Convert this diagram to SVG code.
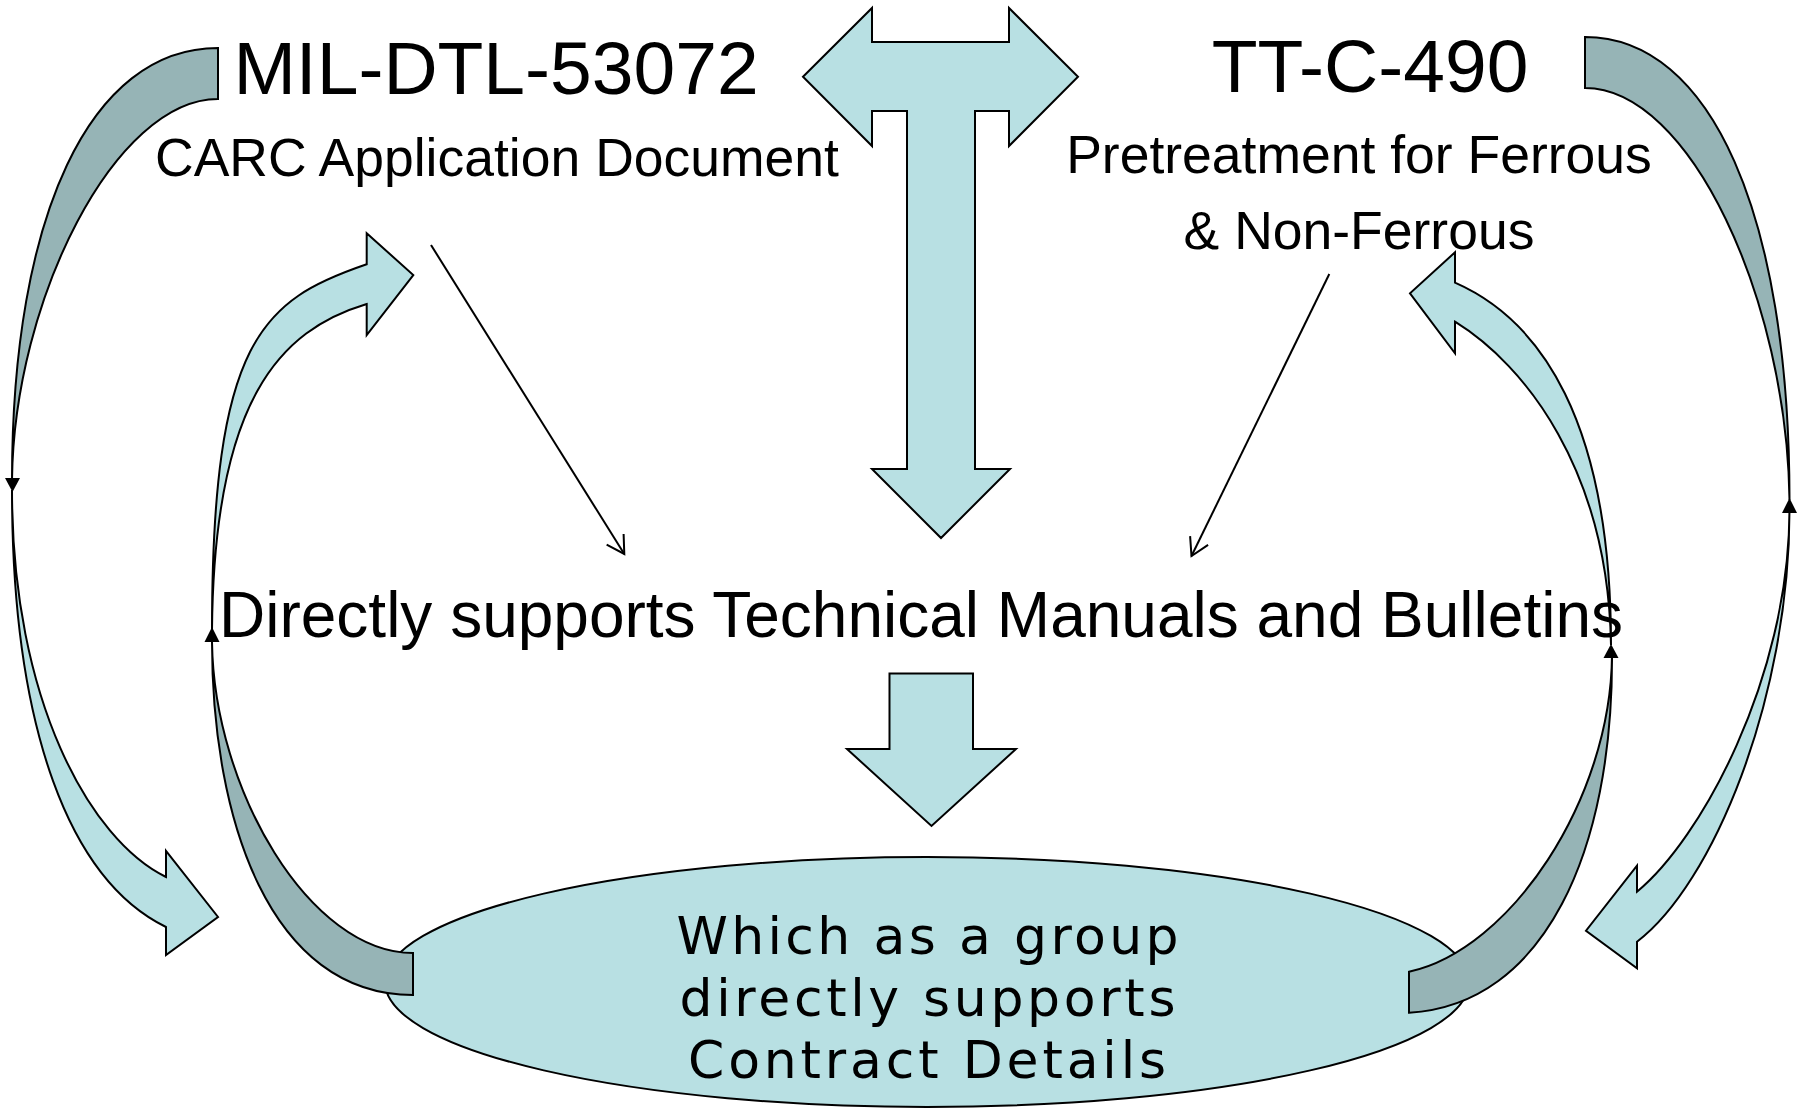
<svg xmlns="http://www.w3.org/2000/svg" width="1801" height="1109" viewBox="0 0 1801 1109">
  <style>
    .txt { font-family: "Liberation Sans", Arial, sans-serif; fill: #000; text-anchor: middle; }
    .oval-txt { font-family: "DejaVu Sans", Verdana, sans-serif; font-size: 52px; fill: #000; text-anchor: middle; }
    .front { fill: #B8E0E3; stroke: #000; stroke-width: 2; stroke-linejoin: miter; }
    .back { fill: #96B4B6; stroke: #000; stroke-width: 2; stroke-linejoin: miter; }
    .pin { fill: #000; }
    .thin { fill: none; stroke: #000; stroke-width: 2; marker-end: url(#open); }
  </style>
  <defs>
    <marker id="open" markerUnits="userSpaceOnUse" markerWidth="24" markerHeight="24" viewBox="-20 -12 22 24" refX="0" refY="0" orient="auto">
      <path d="M-17.3,-10 L0,0 L-17.3,10" fill="none" stroke="#000" stroke-width="2"/>
    </marker>
  </defs>

  <rect width="1801" height="1109" fill="#fff"/>

  <!-- spec titles -->
  <g id="mil-dtl-53072">
    <text class="txt" x="496" y="94" font-size="75">MIL-DTL-53072</text>
    <text class="txt" x="497" y="175.5" font-size="53.5">CARC Application Document</text>
  </g>
  <g id="tt-c-490">
    <text class="txt" x="1370" y="92" font-size="75">TT-C-490</text>
    <text class="txt" x="1359" y="173" font-size="53.5">Pretreatment for Ferrous</text>
    <text class="txt" x="1359" y="248.5" font-size="53.5">&amp; Non-Ferrous</text>
  </g>
  <g id="manuals">
    <text class="txt" x="921" y="637" font-size="64">Directly supports Technical Manuals and Bulletins</text>
  </g>
  <g id="contract">
    <ellipse cx="927" cy="982" rx="542" ry="125" fill="#B8E0E3" stroke="#000" stroke-width="2"/>
    <text class="oval-txt" x="927.5" y="954" textLength="502" lengthAdjust="spacing">Which as a group</text>
    <text class="oval-txt" x="927.5" y="1016" textLength="496" lengthAdjust="spacing">directly supports</text>
    <text class="oval-txt" x="927" y="1078" textLength="478" lengthAdjust="spacing">Contract Details</text>
  </g>

  <g id="connectors">
    <!-- T-shaped three-way block arrow -->
    <polygon class="front" points="803,76.75 872,8 872,42 1009,42 1009,8 1078,76.75 1009,146 1009,111 975,111 975,469 1010,469 941,538 872,469 907,469 907,111 872,111 872,146"/>
    <!-- block arrow down to the oval -->
    <polygon class="front" points="889.5,673.5 973,673.5 973,749 1016,749 931.5,826 847,749 889.5,749"/>

    <!-- left outer curved arrow -->
    <path class="back" d="M218,48 C90,48 12,216 12,480 C14,300 115,99 218,99 Z"/>
    <path class="front" d="M12,490 C12,730 70,880 166,927 L166,955 L218,917 L166,851 L166,877 C90,840 12,700 12,490 Z"/>
    <path class="pin" d="M5,478 L20,478 L12.5,492 Z"/>

    <!-- left inner curved arrow -->
    <path class="back" d="M413,995 C270,995 212,820 212,642 C214,790 310,953 413,953 Z"/>
    <path class="front" d="M212,630 C212,340 262,300 366.7,264.3 L366.7,233.3 L413.3,275 L366.7,335 L366.7,304 C280,330 214,400 212,630 Z"/>
    <path class="pin" d="M212,627 L219.5,642 L204.5,642 Z"/>

    <!-- right outer curved arrow -->
    <path class="back" d="M1585,37 C1711,37 1789.5,215 1789.5,500 C1787,300 1690,88 1585,88 Z"/>
    <path class="front" d="M1789.5,510 C1789.5,700 1712,885 1637,941.7 L1637,968.3 L1586,930.7 L1637,865.7 L1637,891.7 C1700,840 1789,680 1789.5,510 Z"/>
    <path class="pin" d="M1789.5,498 L1797,513 L1782,513 Z"/>

    <!-- right inner curved arrow -->
    <path class="back" d="M1409,1012.7 C1545,1005 1613,850 1612,655 C1611,800 1510,950 1409,971.7 Z"/>
    <path class="front" d="M1611,645 C1611,420 1540,320 1455,282.7 L1455,252.3 L1410,293.3 L1455,353.3 L1455,321.7 C1525,365 1608,470 1611,645 Z"/>
    <path class="pin" d="M1611,644 L1618.5,658 L1603.5,658 Z"/>

    <!-- thin pointer lines -->
    <line class="thin" x1="431" y1="245" x2="624.3" y2="554"/>
    <line class="thin" x1="1329.3" y1="274" x2="1191.5" y2="556"/>
  </g>
</svg>
